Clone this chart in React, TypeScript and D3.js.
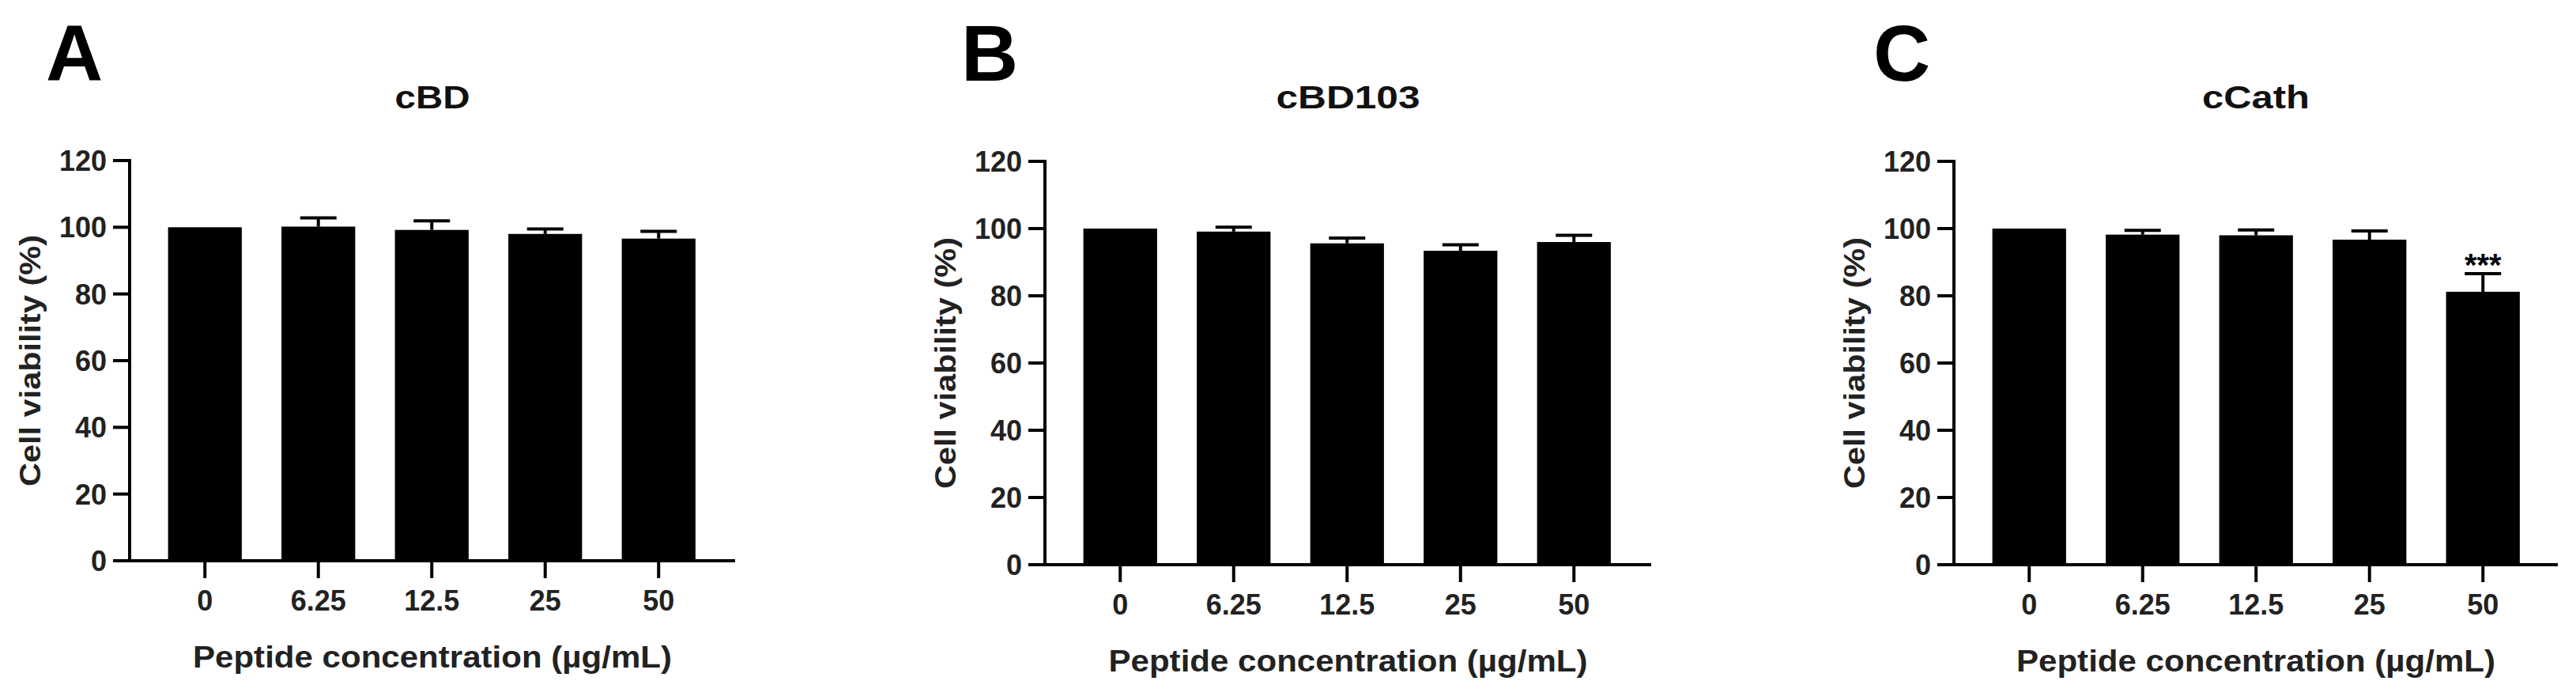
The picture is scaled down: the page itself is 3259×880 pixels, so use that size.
import React from "react";
import * as d3 from "d3";

const concentrations = ["0", "6.25", "12.5", "25", "50"];
const panelLetters = ["A", "B", "C"];
const panelTitles = ["cBD", "cBD103", "cCath"];
const cBDMeans = [100, 100.2, 99.2, 98.0, 96.6];
const cBDErr = [0, 2.6, 2.7, 1.5, 2.2];
const cBD103Means = [100, 99.1, 95.6, 93.4, 96.0];
const cBD103Err = [0, 1.3, 1.6, 1.8, 2.0];
const cCathMeans = [100, 98.2, 98.0, 96.7, 81.2];
const cCathErr = [0, 1.3, 1.6, 2.6, 5.4];
const cCathSig = ["", "", "", "", "***"];
const yTicks = [0, 20, 40, 60, 80, 100, 120];
const xAxisTitle = "Peptide concentration (µg/mL)";
const yAxisTitle = "Cell viability (%)";

const FONT = "'Liberation Sans', Arial, Helvetica, sans-serif";

type Layout = { axisX: number; axisEnd: number; y0: number; yTop: number; letterX: number; titleLen: number };

const layouts: Layout[] = [
  { axisX: 164, axisEnd: 930, y0: 709, yTop: 203, letterX: 58, titleLen: 95 },
  { axisX: 1322, axisEnd: 2089, y0: 714, yTop: 204, letterX: 1216, titleLen: 182 },
  { axisX: 2472, axisEnd: 3236, y0: 714, yTop: 204, letterX: 2370, titleLen: 136 },
];

const panelData = [
  { means: cBDMeans, errs: cBDErr, sig: ["", "", "", "", ""] },
  { means: cBD103Means, errs: cBD103Err, sig: ["", "", "", "", ""] },
  { means: cCathMeans, errs: cCathErr, sig: cCathSig },
];

function Panel({ idx }: { idx: number }) {
  const L = layouts[idx];
  const D = panelData[idx];
  const x = d3
    .scaleBand<string>()
    .domain(concentrations)
    .range([L.axisX + 23.5, L.axisX + 23.5 + 717.5])
    .paddingInner(0.35)
    .paddingOuter(0.175);
  const y = d3.scaleLinear().domain([0, 120]).range([L.y0, L.yTop]);
  const bw = x.bandwidth();
  const mid = (L.axisX + L.axisEnd) / 2;
  const yMid = (L.y0 + L.yTop) / 2;
  const tickLen = 21;
  const sw = 4;
  return (
    <g>
      <text x={L.letterX} y={102} fontSize={100} fontWeight="bold" fontFamily={FONT} fill="#000">
        {panelLetters[idx]}
      </text>
      <text
        x={mid}
        y={137}
        fontSize={40}
        fontWeight="bold"
        fontFamily={FONT}
        textAnchor="middle"
        textLength={L.titleLen}
        lengthAdjust="spacingAndGlyphs"
        fill="#111"
      >
        {panelTitles[idx]}
      </text>
      {/* bars */}
      {concentrations.map((c, i) => (
        <rect key={"b" + c} x={x(c)} y={y(D.means[i])} width={bw} height={y(0) - y(D.means[i])} fill="#000" />
      ))}
      {/* error bars */}
      {concentrations.map((c, i) => {
        if (!D.errs[i]) return null;
        const cx = (x(c) as number) + bw / 2;
        const top = y(D.means[i] + D.errs[i]);
        return (
          <g key={"e" + c} stroke="#000" strokeWidth={sw}>
            <line x1={cx} x2={cx} y1={y(D.means[i])} y2={top} />
            <line x1={cx - 23} x2={cx + 23} y1={top} y2={top} />
          </g>
        );
      })}
      {concentrations.map((c, i) => {
        if (!D.sig[i]) return null;
        const cx = (x(c) as number) + bw / 2;
        const top = y(D.means[i] + D.errs[i]);
        return (
          <text
            key={"s" + c}
            x={cx}
            y={top + 3}
            fontSize={40}
            fontWeight="bold"
            fontFamily={FONT}
            textAnchor="middle"
            fill="#000"
          >
            {D.sig[i]}
          </text>
        );
      })}
      {/* y axis */}
      <line x1={L.axisX} x2={L.axisX} y1={L.yTop - sw / 2} y2={L.y0} stroke="#000" strokeWidth={sw} />
      {yTicks.map((t) => (
        <g key={"yt" + t}>
          <line x1={L.axisX - tickLen} x2={L.axisX} y1={y(t)} y2={y(t)} stroke="#000" strokeWidth={sw} />
          <text
            x={L.axisX - 29}
            y={y(t)}
            dy="0.36em"
            fontSize={36}
            fontWeight="bold"
            fontFamily={FONT}
            textAnchor="end"
            fill="#222"
          >
            {t}
          </text>
        </g>
      ))}
      {/* x axis */}
      <line x1={L.axisX - tickLen} x2={L.axisEnd} y1={L.y0} y2={L.y0} stroke="#000" strokeWidth={sw} />
      {concentrations.map((c) => {
        const cx = (x(c) as number) + bw / 2;
        return (
          <g key={"xt" + c}>
            <line x1={cx} x2={cx} y1={L.y0} y2={L.y0 + 22} stroke="#000" strokeWidth={sw} />
            <text
              x={cx}
              y={L.y0 + 63}
              fontSize={36}
              fontWeight="bold"
              fontFamily={FONT}
              textAnchor="middle"
              fill="#222"
            >
              {c}
            </text>
          </g>
        );
      })}
      <text
        x={mid}
        y={L.y0 + 135}
        fontSize={38}
        fontWeight="bold"
        fontFamily={FONT}
        textAnchor="middle"
        textLength={606}
        lengthAdjust="spacingAndGlyphs"
        fill="#222"
      >
        {xAxisTitle}
      </text>
      <text
        transform={`translate(${L.axisX - 113},${yMid}) rotate(-90)`}
        fontSize={36}
        fontWeight="bold"
        fontFamily={FONT}
        textAnchor="middle"
        textLength={318}
        lengthAdjust="spacingAndGlyphs"
        fill="#222"
      >
        {yAxisTitle}
      </text>
    </g>
  );
}

export default function App() {
  return (
    <svg
      width={3259}
      height={880}
      viewBox="0 0 3259 880"
      style={{ position: "absolute", left: 0, top: 0, background: "#fff" }}
    >
      <rect x={0} y={0} width={3259} height={880} fill="#fff" />
      {layouts.map((_, i) => (
        <Panel key={i} idx={i} />
      ))}
    </svg>
  );
}
